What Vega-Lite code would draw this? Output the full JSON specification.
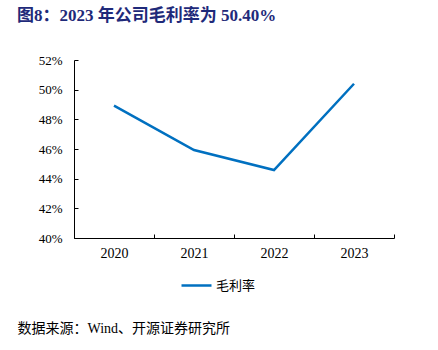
{
  "$schema": "https://vega.github.io/schema/vega-lite/v6.json",
  "autosize": "none",
  "width": 320,
  "height": 178,
  "padding": {"left": 74, "top": 60, "right": 44, "bottom": 112},
  "background": "white",
  "title": {
    "text": "图8：2023 年公司毛利率为 50.40%",
    "anchor": "start",
    "frame": "group",
    "dx": -57,
    "offset": 29,
    "font": "Liberation Serif, Noto Sans CJK SC",
    "fontSize": 17,
    "fontWeight": "bold",
    "color": "#1F2A7A"
  },
  "data": {
    "values": [
      {"year": "2020", "series": "毛利率", "value": 0.4892},
      {"year": "2021", "series": "毛利率", "value": 0.4593},
      {"year": "2022", "series": "毛利率", "value": 0.4458},
      {"year": "2023", "series": "毛利率", "value": 0.5040}
    ]
  },
  "mark": {"type": "line", "strokeWidth": 2.5},
  "encoding": {
    "x": {
      "field": "year",
      "type": "ordinal",
      "scale": {"type": "band", "paddingInner": 0, "paddingOuter": 0},
      "axis": {
        "title": "数据来源：Wind、开源证券研究所",
        "titleAnchor": "start",
        "titleAlign": "left",
        "titleX": -57,
        "titleY": 83,
        "titleFont": "Liberation Serif, Noto Sans CJK SC",
        "titleFontSize": 14,
        "titleFontWeight": "normal",
        "titleColor": "#000000",
        "labelAngle": 0,
        "labelFont": "Liberation Serif",
        "labelFontSize": 14,
        "labelFontWeight": "normal",
        "labelColor": "#000000",
        "labelPadding": 12,
        "tickBand": "extent",
        "tickSize": -4,
        "tickColor": "#000000",
        "domainColor": "#000000",
        "grid": false
      }
    },
    "y": {
      "field": "value",
      "type": "quantitative",
      "scale": {"domain": [0.40, 0.52], "nice": false, "zero": false},
      "axis": {
        "title": null,
        "values": [0.40, 0.42, 0.44, 0.46, 0.48, 0.50, 0.52],
        "format": ".0%",
        "labelFont": "Liberation Serif",
        "labelFontSize": 13,
        "labelFontWeight": "normal",
        "labelColor": "#000000",
        "labelPadding": 16,
        "tickSize": -4,
        "tickColor": "#000000",
        "domainColor": "#000000",
        "grid": false
      }
    },
    "color": {
      "field": "series",
      "type": "nominal",
      "scale": {"range": ["#0070C0"]},
      "legend": {
        "title": null,
        "orient": "none",
        "legendX": 106,
        "legendY": 209,
        "symbolType": "stroke",
        "symbolSize": 900,
        "symbolStrokeWidth": 2.5,
        "labelFont": "Noto Sans CJK SC",
        "labelFontSize": 13,
        "labelColor": "#000000",
        "labelOffset": 3
      }
    }
  },
  "config": {"view": {"stroke": null}}
}
